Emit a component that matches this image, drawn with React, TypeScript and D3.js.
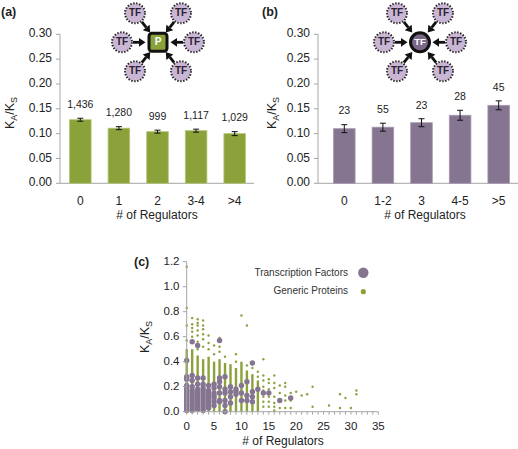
import React from "react";
import * as d3 from "d3";

// ---------- Data ----------
const catsA = ["0", "1", "2", "3-4", ">4"];
const valsA = [0.128, 0.111, 0.104, 0.106, 0.1];
const errsA = [0.003, 0.003, 0.003, 0.003, 0.004];
const countsA = ["1,436", "1,280", "999", "1,117", "1,029"];

const catsB = ["0", "1-2", "3", "4-5", ">5"];
const valsB = [0.11, 0.113, 0.122, 0.137, 0.157];
const errsB = [0.008, 0.008, 0.008, 0.01, 0.009];
const countsB = ["23", "55", "23", "28", "45"];

const yTicksBar = [0, 0.05, 0.1, 0.15, 0.2, 0.25, 0.3];
const xTicksC = [0, 5, 10, 15, 20, 25, 30, 35];
const yTicksC = [0, 0.2, 0.4, 0.6, 0.8, 1.0, 1.2];

// generic proteins: top of the dense column per regulator count (x = index)
const greenDenseTop = [0.5, 0.5, 0.45, 0.42, 0.44, 0.4, 0.42, 0.39, 0.38, 0.35, 0.4, 0.33, 0.3, 0.25];
// generic proteins: isolated points [regulators, KA/KS]
const greenPoints: [number, number][] = [
  [0, 1.16], [0, 0.83], [0, 0.69], [0, 0.57],
  [1, 0.75], [1, 0.7], [1, 0.67], [1, 0.64], [1, 0.6], [1, 0.56],
  [2, 0.74], [2, 0.71], [2, 0.69], [2, 0.65], [2, 0.61], [2, 0.56], [2, 0.5],
  [3, 0.73], [3, 0.69], [3, 0.66], [3, 0.62], [3, 0.58], [3, 0.52],
  [4, 0.61], [4, 0.55], [4, 0.5],
  [5, 0.53], [5, 0.46],
  [6, 0.59], [6, 0.57], [6, 0.52], [6, 0.48],
  [7, 0.44],
  [9, 0.46], [9, 0.4],
  [10, 0.77],
  [11, 0.69], [11, 0.37],
  [12, 0.35],
  [13, 0.32], [13, 0.28],
  [14, 0.42], [14, 0.29], [14, 0.25], [14, 0.2], [14, 0.17], [14, 0.12], [14, 0.08], [14, 0.04],
  [15, 0.26], [15, 0.23], [15, 0.18], [15, 0.12], [15, 0.08], [15, 0.04],
  [16, 0.29], [16, 0.23], [16, 0.19], [16, 0.12], [16, 0.07], [16, 0.04], [16, 0.01],
  [17, 0.21], [17, 0.15], [17, 0.09], [17, 0.03],
  [18, 0.23], [18, 0.2], [18, 0.13], [18, 0.09], [18, 0.03],
  [19, 0.15], [19, 0.09], [19, 0.03],
  [20, 0.16], [21, 0.13], [22, 0.14], [23, 0.2], [23, 0.04],
  [26, 0.05], [28, 0.14], [28, 0.03], [29, 0.11], [30, 0.03], [31, 0.17], [31, 0.14],
];
// transcription factors [regulators, KA/KS]
const tfPoints: [number, number][] = [
  [0, 0.41], [0, 0.28], [0, 0.26], [0, 0.21], [0, 0.19], [0, 0.17], [0, 0.15], [0, 0.13], [0, 0.11], [0, 0.09], [0, 0.07], [0, 0.05], [0, 0.03], [0, 0.01],
  [1, 0.56], [1, 0.29], [1, 0.25], [1, 0.2], [1, 0.17], [1, 0.15], [1, 0.13], [1, 0.11], [1, 0.09], [1, 0.07], [1, 0.05], [1, 0.03], [1, 0.01],
  [2, 0.53], [2, 0.27], [2, 0.22], [2, 0.18], [2, 0.16], [2, 0.14], [2, 0.12], [2, 0.1], [2, 0.08], [2, 0.06], [2, 0.04], [2, 0.02],
  [3, 0.27], [3, 0.22], [3, 0.19], [3, 0.17], [3, 0.15], [3, 0.13], [3, 0.11], [3, 0.09], [3, 0.07], [3, 0.05], [3, 0.03], [3, 0.01],
  [4, 0.21], [4, 0.17], [4, 0.15], [4, 0.13], [4, 0.11], [4, 0.09], [4, 0.07], [4, 0.05], [4, 0.03],
  [5, 0.22], [5, 0.19], [5, 0.15], [5, 0.13], [5, 0.11], [5, 0.08], [5, 0.05],
  [6, 0.57], [6, 0.27], [6, 0.24], [6, 0.2], [6, 0.15], [6, 0.09], [6, 0.08],
  [7, 0.28], [7, 0.18], [7, 0.15], [7, 0.09], [7, 0.05], [7, 0.0],
  [8, 0.2], [8, 0.16], [8, 0.12], [8, 0.07],
  [9, 0.18], [9, 0.16], [9, 0.14],
  [10, 0.21], [10, 0.15], [10, 0.09],
  [11, 0.24], [11, 0.13], [11, 0.09],
  [12, 0.39], [12, 0.16], [12, 0.12], [12, 0.08],
  [13, 0.18], [14, 0.15], [15, 0.15], [17, 0.09], [19, 0.11],
];

// ---------- Style ----------
const FONT = "'Liberation Sans', Arial, Helvetica, sans-serif";
const GREEN = "#8ba23b";
const GREEN_EDGE = "#b5c77a";
const PURPLE = "#857590";
const PURPLE_EDGE = "#a99bb2";
const TF_FILL = "#c9b5d4";
const AXIS = "#a6a6a6";
const TEXT = "#222";

const W = 518;
const H = 449;

function KaKs({ x, y, size }: { x: number; y: number; size: number }) {
  return (
    <text
      transform={`translate(${x},${y}) rotate(-90)`}
      textAnchor="middle"
      dominantBaseline="middle"
      fontSize={size}
      fill={TEXT}
      fontFamily={FONT}
    >
      K<tspan fontSize={size * 0.72} dy={size * 0.3}>A</tspan>
      <tspan dy={-size * 0.3}>/K</tspan>
      <tspan fontSize={size * 0.72} dy={size * 0.3}>S</tspan>
    </text>
  );
}

const tfOffsets: [number, number][] = [
  [-23, -29], [23, -29], [-36, 0], [36, 0], [-23, 29], [23, 29],
];

function Icon({ cx, cy, kind }: { cx: number; cy: number; kind: "P" | "TF" }) {
  const r = 10;
  const centerR = 11;
  return (
    <g>
      {tfOffsets.map(([dx, dy], i) => {
        const len = Math.hypot(dx, dy);
        const ux = dx / len;
        const uy = dy / len;
        const sx = cx + dx - ux * (r + 1);
        const sy = cy + dy - uy * (r + 1);
        const ex = cx + ux * (centerR + 1.5);
        const ey = cy + uy * (centerR + 1.5);
        const hl = 6.5;
        const hw = 4.4;
        const bx = ex + ux * hl;
        const by = ey + uy * hl;
        const px = -uy;
        const py = ux;
        return (
          <g key={i}>
            <line x1={sx} y1={sy} x2={bx} y2={by} stroke="#111" strokeWidth={2.8} />
            <polygon
              points={`${ex},${ey} ${bx + px * hw},${by + py * hw} ${bx - px * hw},${by - py * hw}`}
              fill="#111"
            />
            <circle
              cx={cx + dx}
              cy={cy + dy}
              r={r}
              fill={TF_FILL}
              stroke="#222"
              strokeWidth={2}
              strokeDasharray="1.4,1.6"
            />
            <text
              x={cx + dx}
              y={cy + dy + 0.5}
              textAnchor="middle"
              dominantBaseline="middle"
              fontSize={10}
              fontWeight="bold"
              fill="#2a2230"
              fontFamily={FONT}
            >
              TF
            </text>
          </g>
        );
      })}
      {kind === "P" ? (
        <g>
          <rect x={cx - 9} y={cy - 9} width={18} height={18} rx={3} fill={GREEN} stroke="#111" strokeWidth={3} />
          <text x={cx} y={cy + 0.5} textAnchor="middle" dominantBaseline="middle" fontSize={10} fontWeight="bold" fill="#fff" fontFamily={FONT}>
            P
          </text>
        </g>
      ) : (
        <g>
          <circle cx={cx} cy={cy} r={9.5} fill="#7a6888" stroke="#111" strokeWidth={3} />
          <text x={cx} y={cy + 0.5} textAnchor="middle" dominantBaseline="middle" fontSize={9.5} fontWeight="bold" fill="#fff" fontFamily={FONT}>
            TF
          </text>
        </g>
      )}
    </g>
  );
}

function BarPanel({
  cats, vals, errs, counts, axisX, bandStart, bandEnd, fill, edge, label, labelX, ylabX, tickRight, titleX, iconKind, iconX,
}: {
  cats: string[]; vals: number[]; errs: number[]; counts: string[];
  axisX: number; bandStart: number; bandEnd: number; fill: string; edge: string;
  label: string; labelX: number; ylabX: number; tickRight: number; titleX: number; iconKind: "P" | "TF"; iconX: number;
}) {
  const y = d3.scaleLinear().domain([0, 0.3]).range([183.3, 34.3]);
  const x = d3.scaleBand().domain(cats).range([bandStart, bandEnd]).paddingInner(0.44).paddingOuter(0.22);
  const fmt = d3.format(".2f");
  return (
    <g fontFamily={FONT}>
      <text x={labelX} y={16} fontSize={12.5} fontWeight="bold" fill={TEXT}>{label}</text>
      <line x1={axisX} x2={axisX} y1={y(0.3)} y2={y(0)} stroke={AXIS} strokeWidth={1} />
      <line x1={axisX} x2={bandEnd} y1={y(0)} y2={y(0)} stroke={AXIS} strokeWidth={1} />
      {yTicksBar.map((t) => (
        <g key={t}>
          <line x1={axisX - 4} x2={axisX} y1={y(t)} y2={y(t)} stroke={AXIS} />
          <text x={tickRight} y={y(t)} textAnchor="end" dominantBaseline="middle" fontSize={12} fill={TEXT}>{fmt(t)}</text>
        </g>
      ))}
      {cats.map((c, i) => {
        const bx = x(c)!;
        const bw = x.bandwidth();
        const cx = bx + bw / 2;
        const top = y(vals[i]);
        return (
          <g key={c}>
            <rect x={bx} y={top} width={bw} height={y(0) - top} fill={fill} stroke={edge} strokeWidth={0.8} />
            <line x1={cx} x2={cx} y1={y(vals[i] + errs[i])} y2={y(vals[i] - errs[i])} stroke="#111" strokeWidth={1} />
            <line x1={cx - 3} x2={cx + 3} y1={y(vals[i] + errs[i])} y2={y(vals[i] + errs[i])} stroke="#111" strokeWidth={1} />
            <line x1={cx - 3} x2={cx + 3} y1={y(vals[i] - errs[i])} y2={y(vals[i] - errs[i])} stroke="#111" strokeWidth={1} />
            <text x={cx} y={y(vals[i] + errs[i]) - 13} textAnchor="middle" dominantBaseline="middle" fontSize={10.5} fill={TEXT}>{counts[i]}</text>
            <text x={cx} y={201.7} textAnchor="middle" dominantBaseline="middle" fontSize={12} fill={TEXT}>{c}</text>
          </g>
        );
      })}
      <text x={titleX} y={216} textAnchor="middle" dominantBaseline="middle" fontSize={12} fill={TEXT}># of Regulators</text>
      <KaKs x={ylabX} y={113} size={12.5} />
      <Icon cx={iconX} cy={42.3} kind={iconKind} />
    </g>
  );
}

function ScatterPanel() {
  const x = d3.scaleLinear().domain([0, 35]).range([186.7, 378.3]);
  const y = d3.scaleLinear().domain([0, 1.2]).range([411.7, 261.7]);
  const minor = d3.range(0, 36);
  return (
    <g fontFamily={FONT}>
      <text x={134} y={266} fontSize={12.5} fontWeight="bold" fill={TEXT}>(c)</text>
      {greenDenseTop.map((t, i) => (
        <rect key={`gd${i}`} x={x(i) - 1.2} y={y(t)} width={2.4} height={y(0) - y(t)} fill={GREEN} />
      ))}
      {greenPoints.map(([gx, gv], i) => (
        <circle key={`gp${i}`} cx={x(gx)} cy={y(gv)} r={1.2} fill={GREEN} />
      ))}
      {tfPoints.map(([tx, tv], i) => (
        <circle key={`tp${i}`} cx={x(tx)} cy={y(tv)} r={2.7} fill={PURPLE} />
      ))}
      <line x1={x(0)} x2={x(0)} y1={y(1.2)} y2={y(0)} stroke={AXIS} />
      <line x1={x(0)} x2={x(35)} y1={y(0)} y2={y(0)} stroke={AXIS} />
      {minor.map((m) => (
        <line key={`m${m}`} x1={x(m)} x2={x(m)} y1={y(0)} y2={y(0) + 3} stroke={AXIS} />
      ))}
      {xTicksC.map((t) => (
        <text key={`xt${t}`} x={x(t)} y={426.7} textAnchor="middle" dominantBaseline="middle" fontSize={11.5} fill={TEXT}>{t}</text>
      ))}
      {yTicksC.map((t) => (
        <g key={`yt${t}`}>
          <line x1={x(0) - 4} x2={x(0)} y1={y(t)} y2={y(t)} stroke={AXIS} />
          <text x={179.5} y={y(t)} textAnchor="end" dominantBaseline="middle" fontSize={11.5} fill={TEXT}>{d3.format(".1f")(t)}</text>
        </g>
      ))}
      <text x={283} y={442} textAnchor="middle" dominantBaseline="middle" fontSize={12} fill={TEXT}># of Regulators</text>
      <KaKs x={146} y={337} size={12.5} />
      <text x={348} y={273} textAnchor="end" dominantBaseline="middle" fontSize={10} fill="#333">Transcription Factors</text>
      <circle cx={363.3} cy={272.7} r={5.2} fill={PURPLE} />
      <text x={348} y={291.7} textAnchor="end" dominantBaseline="middle" fontSize={10} fill="#333">Generic Proteins</text>
      <circle cx={363.3} cy={291.7} r={2.6} fill={GREEN} />
    </g>
  );
}

export default function App() {
  return (
    <svg
      width={W}
      height={H}
      viewBox={`0 0 ${W} ${H}`}
      style={{ position: "absolute", left: 0, top: 0, background: "#fff" }}
    >
      <rect width={W} height={H} fill="#fff" />
      <BarPanel
        cats={catsA} vals={valsA} errs={errsA} counts={countsA}
        axisX={60} bandStart={61} bandEnd={254} fill={GREEN} edge={GREEN_EDGE}
        label="(a)" labelX={1} ylabX={11} tickRight={52} titleX={157} iconKind="P" iconX={158}
      />
      <BarPanel
        cats={catsB} vals={valsB} errs={errsB} counts={countsB}
        axisX={318} bandStart={325} bandEnd={518} fill={PURPLE} edge={PURPLE_EDGE}
        label="(b)" labelX={262} ylabX={273} tickRight={310} titleX={425} iconKind="TF" iconX={420}
      />
      <ScatterPanel />
    </svg>
  );
}
